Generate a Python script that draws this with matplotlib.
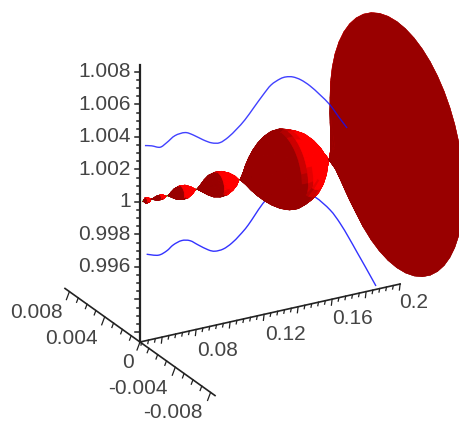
import numpy as np
import matplotlib
matplotlib.use('Agg')
import matplotlib.pyplot as plt
from matplotlib.collections import PolyCollection
from matplotlib.patches import PathPatch
from matplotlib.path import Path

plt.rcParams['font.family'] = ['Liberation Sans', 'DejaVu Sans']

# radius of the tube along t
tube_t = [0.0488, 0.0505, 0.0523, 0.0535, 0.0552, 0.0570, 0.0588, 0.0605, 0.0623,
          0.0635, 0.0658, 0.0682, 0.0711, 0.0741, 0.0770, 0.0799,
          0.0805, 0.0835, 0.0864, 0.0893, 0.0929, 0.0964, 0.0999, 0.1029, 0.1052,
          0.1058, 0.1093, 0.1129, 0.1164, 0.1199, 0.1234, 0.1270, 0.1305, 0.1340,
          0.1376, 0.1411, 0.1446, 0.1482, 0.1517, 0.1540, 0.1564, 0.1581,
          0.1646, 0.1705, 0.1764, 0.1822, 0.1881, 0.1981]
tube_r = [0.0, 0.00017, 0.00012, 0.0, 0.00006, 0.00012, 0.00014, 0.00012, 0.0,
          0.0, 0.00017, 0.00032, 0.0004, 0.00038, 0.00023, 0.0,
          0.0, 0.00023, 0.00046, 0.00064, 0.00072, 0.00069, 0.00052, 0.00029, 0.0,
          0.0, 0.0004, 0.00087, 0.00127, 0.00162, 0.00191, 0.00214, 0.00228, 0.00231,
          0.0022, 0.00205, 0.00185, 0.0015, 0.00104, 0.00064, 0.00029, 0.0,
          0.00104, 0.0022, 0.00335, 0.00451, 0.00567, 0.00758]

upper_t = [0.0499, 0.0539, 0.0588, 0.0627, 0.0676, 0.0735, 0.0783, 0.0842, 0.0892, 0.0940,
           0.0989, 0.1039, 0.1087, 0.1140, 0.1194, 0.1241, 0.1294, 0.1329, 0.1370,
           0.1417, 0.1470, 0.1529, 0.1588, 0.1635, 0.1688]
upper_z = [1.00340, 1.00329, 1.00309, 1.00328, 1.00360, 1.00365, 1.00339, 1.00295, 1.00265, 1.00255,
           1.00277, 1.00316, 1.00361, 1.00425, 1.00490, 1.00540, 1.00565, 1.00569, 1.00559,
           1.00530, 1.00481, 1.00412, 1.00336, 1.00257, 1.00171]
lower_t = [0.0509, 0.0578, 0.0627, 0.0666, 0.0715, 0.0764, 0.0813, 0.0872, 0.0911, 0.0960,
           0.1009, 0.1058, 0.1107, 0.1205, 0.1294, 0.1399, 0.1499, 0.1588, 0.1646, 0.1699,
           0.1746, 0.1799, 0.1858]
lower_z = [0.99669, 0.99647, 0.99662, 0.99690, 0.99705, 0.99693, 0.99655, 0.99611, 0.99594, 0.99596,
           0.99620, 0.99660, 0.99710, 0.99834, 0.99882, 0.99863, 0.99791, 0.99690, 0.99596, 0.99492,
           0.99394, 0.99284, 0.99159]

z_major = [0.996, 0.998, 1.0, 1.002, 1.004, 1.006, 1.008]
z_labels = ['0.996', '0.998', '1', '1.002', '1.004', '1.006', '1.008']
x_labels = ['0.008', '0.004', '0', '-0.004', '-0.008']
t_labels = ['0.08', '0.12', '0.16', '0.2']

# axis ranges and the projection to image pixels
t0, t1 = 0.047, 0.2
x0, x1 = -0.0085, 0.0085
z0, z1 = 0.99138, 1.0084


def proj(t, x, z):
    t, x, z = np.asarray(t), np.asarray(x), np.asarray(z)
    px = 140 + (t - t0) * 1700 - x * 8824
    py = 342 - (t - t0) * 379 - x * 6300 - (z - z0) * 16250
    return px, py


def curve(ax, ts, zs, **kw):
    # smooth line through the read points
    px, py = proj(ts, np.zeros(len(ts)), zs)
    pts = np.column_stack([px, py])
    verts = [pts[0]]
    codes = [Path.MOVETO]
    for i in range(len(pts) - 1):
        before = pts[max(i - 1, 0)]
        after = pts[min(i + 2, len(pts) - 1)]
        verts += [pts[i] + (pts[i + 1] - before) / 6, pts[i + 1] - (after - pts[i]) / 6, pts[i + 1]]
        codes += [Path.CURVE4] * 3
    ax.add_patch(PathPatch(Path(verts, codes), fill=False, **kw))


fig = plt.figure(figsize=(4.6, 4.21), dpi=100)
ax = fig.add_axes([0, 0, 1, 1])
ax.set_xlim(0, 460)
ax.set_ylim(421, 0)
ax.axis('off')

ink = '#222222'
text_col = '#444444'
label_size = 15

# axes lines
ax.plot(*proj([t0, t0], [0, 0], [z0, z1]), color=ink, lw=1.6, zorder=1)
ax.plot(*proj([t0, t1], [0, 0], [z0, z0]), color=ink, lw=1.2, zorder=1)
ax.plot(*proj([t0, t0], [x0, x1], [z0, z0]), color=ink, lw=1.2, zorder=1)

# z ticks
for z in np.arange(0.992, 1.0085, 0.0005):
    major = abs((z - 0.992) / 0.002 - round((z - 0.992) / 0.002)) < 1e-6
    px, py = proj(t0, 0, z)
    ax.plot([px - (5 if major else 2.5), px], [py, py], color=ink, lw=1.1, zorder=1)

# t ticks
for t in np.arange(0.048, 0.2001, 0.004):
    major = abs(t / 0.02 - round(t / 0.02)) < 1e-6
    px, py = proj(t, 0, z0)
    ax.plot([px, px - 0.7], [py, py + (6 if major else 3.5)], color=ink, lw=0.9, zorder=1)

# x ticks
for x in np.arange(-0.008, 0.0081, 0.001):
    major = abs(x / 0.004 - round(x / 0.004)) < 1e-6
    px, py = proj(t0, x, z0)
    s = 1.0 if major else 0.55
    ax.plot([px, px - 3 * s], [py, py + 8 * s], color=ink, lw=0.9, zorder=1)

# axis labels
for z, lab in zip(z_major, z_labels):
    px, py = proj(t0, 0, z)
    ax.text(px - 9, py, lab, ha='right', va='center', fontsize=label_size, color=text_col)

x_label_pos = [(36, 313), (71, 338), (128, 363), (137.5, 388), (172.5, 413)]
for (px, py), lab in zip(x_label_pos, x_labels):
    ax.text(px, py, lab, ha='center', va='center', fontsize=label_size, color=text_col)

t_label_pos = [(218, 350), (285, 334), (353, 318), (414, 302)]
for (px, py), lab in zip(t_label_pos, t_labels):
    ax.text(px, py, lab, ha='center', va='center', fontsize=label_size, color=text_col)

# center line and wall curves
ax.plot(*proj([tube_t[0], tube_t[41]], [0, 0], [1, 1]), color='#33ee33', lw=1.2, zorder=2)
curve(ax, lower_t, lower_z, edgecolor='#3333ff', lw=1, zorder=2)

# which bulge each station belongs to, bulges are split where the radius is zero
bulge_peak = {}
start = 0
for i in range(1, len(tube_t)):
    if tube_r[i] == 0 or i == len(tube_t) - 1:
        seg = range(start, i + 1)
        peak = max(seg, key=lambda k: tube_r[k])
        for k in seg:
            bulge_peak[k] = peak
        start = i + 1 if tube_r[i] == 0 and i + 1 < len(tube_t) and tube_r[i + 1] == 0 else i

# tube surface, far half first and near half afterwards
theta = np.linspace(0, 2 * np.pi, 49)
far, near = [], []
far_c, near_c = [], []
for i in range(len(tube_t) - 1):
    if tube_r[i] == 0 and tube_r[i + 1] == 0:
        continue
    peak = bulge_peak[i if tube_r[i] > 0 else i + 1]
    cx, cy = proj(tube_t[peak], 0, 1)
    h = tube_r[peak] * 17288
    for j in range(len(theta) - 1):
        a, b = theta[j], theta[j + 1]
        m = (a + b) / 2
        ts = [tube_t[i], tube_t[i + 1], tube_t[i + 1], tube_t[i]]
        rs = [tube_r[i], tube_r[i + 1], tube_r[i + 1], tube_r[i]]
        ang = [a, a, b, b]
        xs = [r * np.cos(q) for r, q in zip(rs, ang)]
        zs = [1 + r * np.sin(q) for r, q in zip(rs, ang)]
        px, py = proj(ts, xs, zs)
        # the light falls in slanted bands across each bulge
        u = (np.mean(px) - cx) / h - 0.22 - 0.386 * (np.mean(py) - cy) / h
        shade = 0.6 + 0.4 * np.clip(u / 0.38, 0, 1)
        shade = min(round(shade * 10) / 10, 1.0)
        if np.cos(m) > 0:
            far.append(np.column_stack([px, py]))
            # back of the flare shows as a bright sliver beside the cap
            if i >= 41 and np.sin(m) > 0.1:
                far_c.append((1, 0, 0))
            else:
                far_c.append((shade, 0, 0))
        else:
            near.append(np.column_stack([px, py]))
            near_c.append((shade, 0, 0))

ax.add_collection(PolyCollection(far, facecolors=far_c, edgecolors=far_c, linewidths=0.3, zorder=3))
ax.add_collection(PolyCollection(near, facecolors=near_c, edgecolors=near_c, linewidths=0.3, zorder=4))

# end cap of the tube
cap_x, cap_y = proj(tube_t[-1], tube_r[-1] * np.cos(theta), 1 + tube_r[-1] * np.sin(theta))
ax.fill(cap_x, cap_y, color='#990000', lw=0.3, zorder=5)

curve(ax, upper_t, upper_z, edgecolor='#1111ff', lw=1, alpha=0.8, zorder=6)

plt.savefig('out.png', dpi=100)
